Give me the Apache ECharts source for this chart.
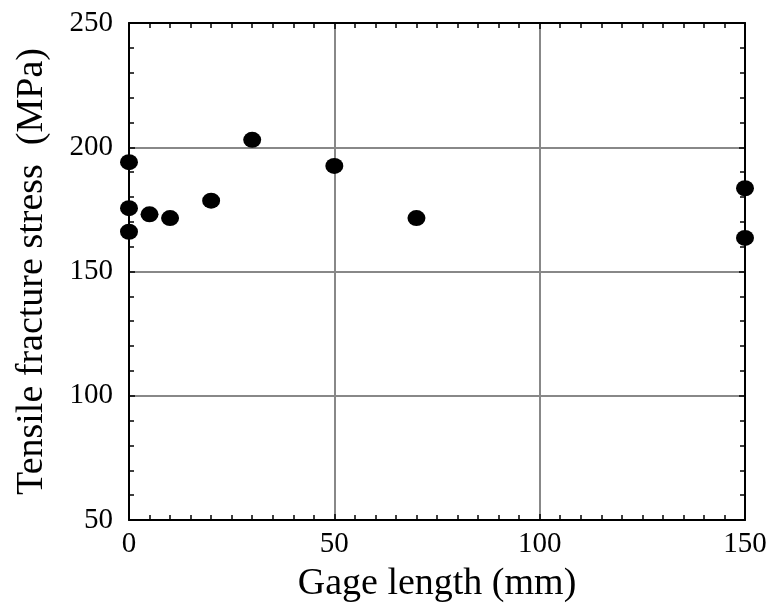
<!DOCTYPE html>
<html>
<head>
<meta charset="utf-8">
<script src="https://cdn.jsdelivr.net/npm/echarts@6/dist/echarts.min.js"></script>
<style>html,body{margin:0;padding:0;background:#fff;}#c{width:774px;height:608px;}</style>
</head>
<body>
<div id="c"></div>
<script>
var gageLength = [0, 0, 0, 5, 10, 20, 30, 50, 70, 150, 150];
var fractureStress = [194, 175.5, 166, 173, 171.5, 178.5, 203, 192.5, 171.5, 183.5, 163.5];
var xTitle = 'Gage length (mm)';
var yTitle = 'Tensile fracture stress  (MPa)';

var pts = gageLength.map(function (x, i) { return [x, fractureStress[i]]; });
var font = 'Liberation Serif, Times New Roman, serif';
var axisLine = { show: true, onZero: false, lineStyle: { color: '#000', width: 2 } };
var tick = { show: true, inside: true, length: 6, lineStyle: { color: '#000', width: 1.5 } };
var chart = echarts.init(document.getElementById('c'));
chart.setOption({
  backgroundColor: '#fff',
  animation: false,
  grid: { left: 129, right: 29, top: 23, bottom: 85 },
  xAxis: [{
    type: 'value', min: 0, max: 150, interval: 50, position: 'bottom',
    name: xTitle, nameLocation: 'middle', nameGap: 45,
    nameTextStyle: { fontFamily: font, fontSize: 38, color: '#000' },
    axisLine: axisLine,
    axisTick: tick,
    minorTick: { show: true, splitNumber: 10, length: 5, lineStyle: { color: '#000', width: 1.5 } },
    axisLabel: { fontFamily: font, fontSize: 29, color: '#000', margin: 10 },
    splitLine: { show: true, lineStyle: { color: '#888', width: 2 } }
  }, {
    type: 'value', min: 0, max: 150, interval: 50, position: 'top',
    axisLine: axisLine,
    axisTick: tick,
    minorTick: { show: true, splitNumber: 10, length: 5, lineStyle: { color: '#000', width: 1.5 } },
    axisLabel: { show: false }, splitLine: { show: false }
  }],
  yAxis: [{
    type: 'value', min: 50, max: 250, interval: 50, position: 'left',
    name: yTitle, nameLocation: 'middle', nameGap: 78,
    nameTextStyle: { fontFamily: font, fontSize: 38, color: '#000' },
    axisLine: axisLine,
    axisTick: tick,
    minorTick: { show: true, splitNumber: 5, length: 5, lineStyle: { color: '#000', width: 1.5 } },
    axisLabel: { fontFamily: font, fontSize: 29, color: '#000', margin: 16 },
    splitLine: { show: true, lineStyle: { color: '#888', width: 2 } }
  }, {
    type: 'value', min: 50, max: 250, interval: 50, position: 'right',
    axisLine: axisLine,
    axisTick: tick,
    minorTick: { show: true, splitNumber: 5, length: 5, lineStyle: { color: '#000', width: 1.5 } },
    axisLabel: { show: false }, splitLine: { show: false }
  }],
  series: [{
    type: 'scatter', data: pts, xAxisIndex: 0, yAxisIndex: 0,
    symbol: 'circle', symbolSize: [18, 16], clip: false,
    itemStyle: { color: '#000', opacity: 1 }
  }]
});
</script>
</body>
</html>
